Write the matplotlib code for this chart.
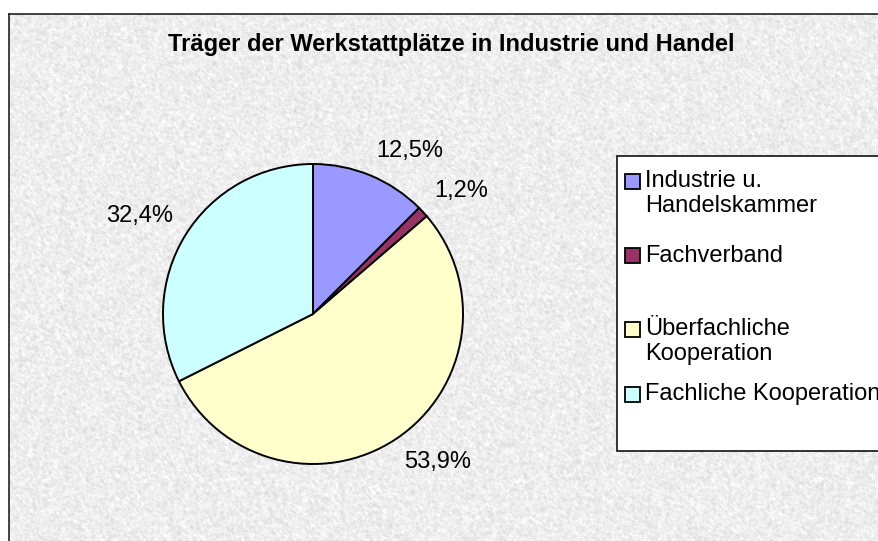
import numpy as np
import matplotlib
matplotlib.use("Agg")
import matplotlib.pyplot as plt
from matplotlib.patches import Rectangle

# ---- data ----
categories = ["Industrie u. Handelskammer", "Fachverband",
              "Überfachliche Kooperation", "Fachliche Kooperation"]
legend_labels = ["Industrie u.\nHandelskammer", "Fachverband",
                 "Überfachliche\nKooperation", "Fachliche Kooperation"]
shares = [12.5, 1.2, 53.9, 32.4]
colors = ["#9999FF", "#993366", "#FFFFCC", "#CCFFFF"]
title = "Träger der Werkstattplätze in Industrie und Handel"

FONT = "Liberation Sans"
FS = 17
W, H = 879, 541
fig = plt.figure(figsize=(W / 100, H / 100), dpi=100, facecolor="white")

# ---- background layer (pixel coordinates, y downwards) ----
bg = fig.add_axes([0, 0, 1, 1])
bg.set_xlim(0, W)
bg.set_ylim(H, 0)
bg.axis("off")

# granite-like decorative texture (not data)
rng = np.random.default_rng(7)
th, tw = H - 14, W - 9
noise = rng.random((th + 4, tw + 4))
k = np.zeros((th, tw))
for dy in range(3):
    for dx in range(3):
        k += noise[dy:dy + th, dx:dx + tw]
sm = k / 9.0
fine = noise[:th, :tw]
tex = 0.93 + 0.20 * (sm - 0.5) + 0.045 * (fine - 0.5)
tex = np.clip(tex, 0.74, 1.0)
bg.imshow(tex, cmap="gray", vmin=0, vmax=1, extent=(9, W, H, 14),
          interpolation="bilinear", aspect="auto", zorder=0)
bg.plot([9, 9], [H, 14], color="#222222", lw=1.2, zorder=1)
bg.plot([9, W], [14, 14], color="#222222", lw=1.2, zorder=1)

# legend box
bg.add_patch(Rectangle((617, 156), 320, 295, facecolor="white",
                       edgecolor="#111111", lw=1.2, zorder=2))
entry_y = [181, 255.5, 329, 394]
line_h = 25
for lab, col, yc in zip(legend_labels, colors, entry_y):
    bg.add_patch(Rectangle((625, yc - 7.5), 15, 15, facecolor=col,
                           edgecolor="black", lw=1.3, zorder=3))
    for i, line in enumerate(lab.split("\n")):
        bg.text(645, yc + i * line_h, line, ha="left", va="center",
                fontsize=FS, family=FONT, color="black", zorder=3)

# title
bg.text(451, 45, title, ha="center", va="center", fontsize=FS,
        fontweight="bold", family=FONT, color="black", zorder=3)

# ---- pie ----
cx, cy, r = 313, 314, 150
ax = fig.add_axes([(cx - r) / W, (H - cy - r) / H, 2 * r / W, 2 * r / H])
ax.patch.set_alpha(0)
wedges, _texts, autotexts = ax.pie(
    shares, colors=colors, startangle=90, counterclock=False,
    autopct=lambda p: f"{p:.1f}%".replace(".", ","), pctdistance=1.1,
    wedgeprops=dict(edgecolor="black", linewidth=1.4),
    textprops=dict(fontsize=FS, family=FONT, color="black"))
for w, t in zip(wedges, autotexts):
    ang = np.deg2rad((w.theta1 + w.theta2) / 2)
    c, s = np.cos(ang), np.sin(ang)
    t.set_position((1.1 * c, 1.1 * s))
    t.set_ha("left" if c > 0 else "right")
    t.set_va("bottom" if s > 0 else "top")
ax.set_xlim(-1, 1)
ax.set_ylim(-1, 1)
ax.axis("off")

fig.savefig("out.png", dpi=100, facecolor="white")
